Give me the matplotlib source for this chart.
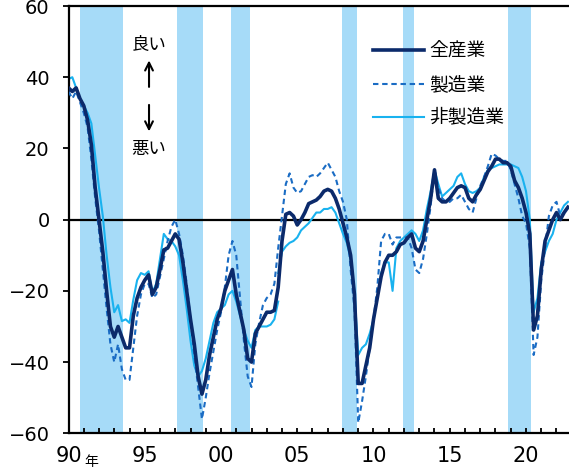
import matplotlib
matplotlib.use("Agg")
import matplotlib.pyplot as plt
from matplotlib.lines import Line2D
import numpy as np

plt.rcParams['font.family'] = ['Liberation Sans Narrow', 'DejaVu Sans', 'Noto Sans CJK JP']

# quarterly DI, first point = end of 1989Q4 (plotted at 1990.0)
all_ind = [37, 36, 37, 34, 32, 28, 21, 9, 0, -9, -20, -30, -33, -30, -33, -36, -36, -27, -22, -19,
           -17, -15.5, -21, -19, -14, -8.5, -8, -6, -4, -5.5, -12, -20, -28, -35, -44, -49, -45, -38, -33, -28,
           -25, -20, -17, -14, -21, -26, -31, -39, -40, -32, -30, -28, -26, -26, -25.5, -19, -6, 1.5, 2, 1,
           -1.5, 0, 2, 4.5, 5, 5.5, 6.5, 8, 8.5, 8, 6, 3, -1, -5, -10, -21, -46, -46, -41, -36,
           -28, -22, -16, -12, -10, -10, -9, -7, -6.5, -5, -4, -8, -9, -6, 0, 6, 14, 6, 5, 5,
           6, 7.5, 9, 9.5, 9, 6, 5, 7, 8.5, 11, 13.5, 15, 17, 17, 16, 16, 15, 11, 9, 6,
           2, -4, -31, -27, -14, -6, -3, 0, 2, 0, 2, 3.5]
manuf = [36, 34, 36, 33, 30, 26, 17, 6, -3, -14, -25, -35, -40, -35, -42, -45, -45, -36, -27, -21,
         -18, -18, -22, -21, -16, -11, -6, -2, 0, -4, -10, -18, -28, -38, -47, -56, -50, -43, -37, -31,
         -26, -19, -10, -6, -10, -22, -34, -44, -47, -35, -29, -24, -22, -21, -18, -8, 1, 10, 13, 9,
         7.5, 8, 10, 12, 12.5, 12, 13, 14.5, 16, 14, 12, 8, 5, 0, -14, -25, -57, -51, -44, -36,
         -28, -19, -6, -4, -4, -7, -5, -5, -5, -5, -8, -14, -15, -11, -4, 4, 14, 9, 6, 5,
         5, 6, 6, 7, 5, 3, 2, 6, 9.5, 12, 15, 18.5, 18, 17, 16.5, 16.5, 14, 10, 6, 1,
         -1, -8, -38, -33, -17, -8, 1, 4, 5, 1, 2, 3]
# non-manufacturing: old basis up to 2003Q4, new basis from 2003Q4
nonmanuf_old = [39.5, 40, 37, 34, 32, 30, 27, 18, 9, 1, -10, -19, -26, -24, -28.5, -28, -29, -22.5, -17, -15,
                -15.5, -14.5, -20.5, -18, -11, -4, -5.5, -6, -7.5, -10, -17, -25, -34, -41, -44, -42.5, -39, -34, -29, -26,
                -25, -24, -21, -20, -23, -27, -31, -34, -36, -31, -30, -30, -30, -29.5, -28, -23]
nonmanuf_new = [-15, -9, -7.5, -6.5, -6, -5, -3, -2, -1, 0.5, 2, 2, 3, 3, 3.5, 2, -1, -4, -6.5, -11,
                -20, -38, -36, -35, -32, -28, -22, -15, -12, -12, -20, -8, -6, -5, -4, -3, -4, -6, -3, 3,
                8, 14, 10, 6.5, 7.5, 8.5, 9.5, 12, 13, 10, 8, 7.5, 8, 9, 12, 14, 14.5, 15, 15.5, 15.5,
                15.5, 15.5, 15, 14.5, 12, 8, 0, -26, -22, -12, -9, -6, -4, 0, 2, 4, 5]
# shaded recession periods (start, end)
recessions = [(1990.75, 1993.55), (1997.1, 1998.8), (2000.66, 2001.9),
              (2007.95, 2008.92), (2011.93, 2012.68), (2018.8, 2020.31)]
legend_labels = ['全産業', '製造業', '非製造業']
xtick_years = list(range(1990, 2023))
xtick_labels = ['90', '95', '00', '05', '10', '15', '20']

x_all = 1990 + np.arange(len(all_ind)) / 4
x_old = 1990 + np.arange(len(nonmanuf_old)) / 4
x_new = x_old[-1] + np.arange(len(nonmanuf_new)) / 4

c_all = '#0b2a6b'
c_man = '#1a6cc4'
c_non = '#19b2ef'
c_band = '#a6dbf8'

fig = plt.figure(figsize=(5.69, 4.68), dpi=100)
W, H = 569, 468
ax = fig.add_axes([68.5 / W, (H - 433.3) / H, (W - 68.5) / W, (433.3 - 6) / H])

for s, e in recessions:
    ax.axvspan(s, e, color=c_band, lw=0, zorder=0)
ax.axhline(0, color='black', lw=1.6, zorder=1)

ax.plot(x_old, nonmanuf_old, color=c_non, lw=1.5, zorder=2)
ax.plot(x_new, nonmanuf_new, color=c_non, lw=1.5, zorder=2)
ax.plot(x_all, manuf, color=c_man, lw=1.5, ls=(0, (2.6, 1.8)), zorder=3)
ax.plot(x_all, all_ind, color=c_all, lw=2.6, zorder=4)

ax.set_xlim(1990, 1990 + (W - 68.5) / 15.25)
ax.set_ylim(-60, 60)
ax.set_yticks(range(-60, 61, 20))
ax.set_xticks(xtick_years)
ax.set_xticklabels([f'{y % 100:02d}' if y % 5 == 0 else '' for y in xtick_years])
ax.tick_params(axis='y', direction='out', length=4.5, width=1.3, labelsize=14, pad=9)
ax.tick_params(axis='x', direction='in', length=3.5, width=1.3, labelsize=15, pad=9)
for side in ['left', 'bottom', 'top']:
    ax.spines[side].set_linewidth(1.6)
ax.spines['right'].set_visible(False)

fig.text(91 / W, 1 - 462 / H, '年', fontsize=10, ha='center', va='center',
         family=['Noto Sans CJK JP'])

# direction note
jp = ['Noto Sans CJK JP']
ax.text(1995.28, 49.1, '良い', fontsize=12.5, ha='center', va='center', family=jp)
ax.text(1995.28, 19.8, '悪い', fontsize=12.5, ha='center', va='center', family=jp)
ax.annotate('', xy=(1995.28, 45.5), xytext=(1995.28, 36.5),
            arrowprops=dict(arrowstyle='->', lw=1.5, color='black', mutation_scale=14))
ax.annotate('', xy=(1995.28, 24.0), xytext=(1995.28, 33.0),
            arrowprops=dict(arrowstyle='->', lw=1.5, color='black', mutation_scale=14))

handles = [Line2D([], [], color=c_all, lw=2.6),
           Line2D([], [], color=c_man, lw=1.5, ls=(0, (2.6, 1.8))),
           Line2D([], [], color=c_non, lw=1.5)]
leg = fig.legend(handles, legend_labels, loc='upper left',
                 bbox_to_anchor=(373 / W, 1 - 41 / H), bbox_transform=fig.transFigure,
                 frameon=False, borderpad=0, borderaxespad=0, handlelength=2.7,
                 handletextpad=0.3, labelspacing=0.65,
                 prop={'family': 'Noto Sans CJK JP', 'size': 13.5})

fig.savefig('out.png', dpi=100)
